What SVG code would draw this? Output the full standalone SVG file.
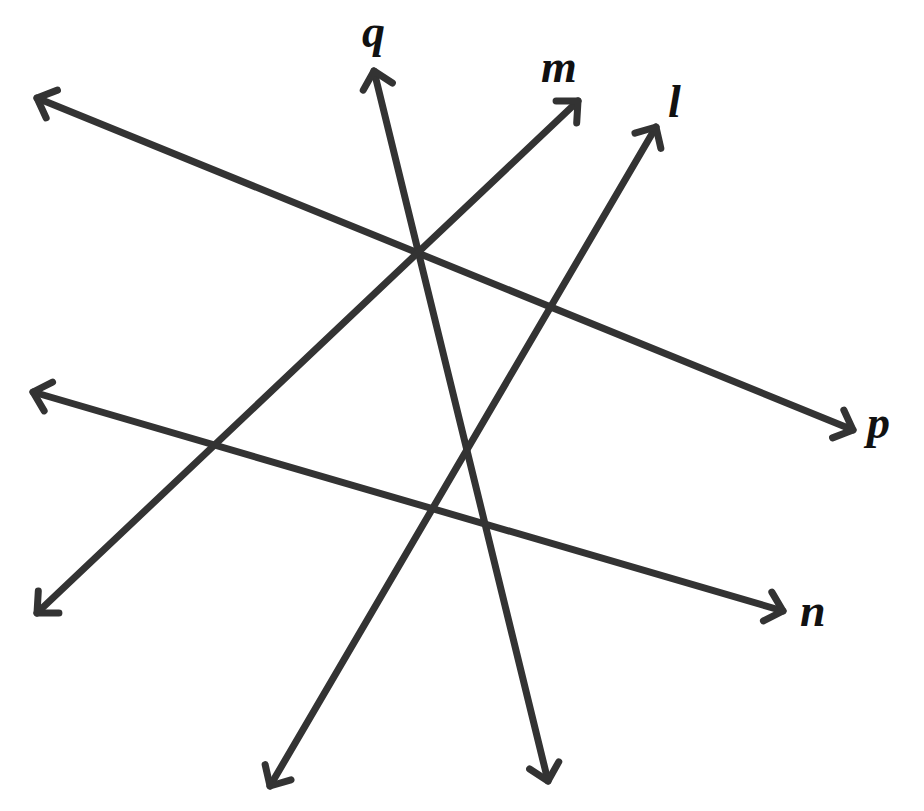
<svg xmlns="http://www.w3.org/2000/svg" width="924" height="811" viewBox="0 0 924 811">
<style>
.ln{stroke:#333;stroke-width:7;fill:none;stroke-linecap:round;marker-start:url(#a);marker-end:url(#a)}
.lb{font-family:"Liberation Serif",serif;font-style:italic;font-weight:bold;font-size:46px;fill:#111}
</style>
<defs>
<marker id="a" viewBox="-30 -30 40 60" markerWidth="40" markerHeight="60" refX="0" refY="0" orient="auto-start-reverse" markerUnits="userSpaceOnUse">
<path d="M-16,-15 L0,0 L-16,15" fill="none" stroke="#333" stroke-width="7" stroke-linecap="round" stroke-linejoin="round"/>
</marker>
</defs>
<rect width="924" height="811" fill="#fff"/>
<g id="connectors">
<line id="p" class="ln" x1="37" y1="98" x2="853" y2="430"/>
<line id="q" class="ln" x1="374" y1="71" x2="548" y2="781"/>
<line id="m" class="ln" x1="578" y1="101" x2="37" y2="613"/>
<line id="l" class="ln" x1="656" y1="127" x2="270" y2="786"/>
<line id="n" class="ln" x1="33" y1="392" x2="783" y2="611"/>
</g>
<g id="labels">
<text class="lb" x="362" y="47">q</text>
<text class="lb" x="541" y="82">m</text>
<text class="lb" x="668" y="117">l</text>
<text class="lb" x="867" y="438">p</text>
<text class="lb" x="800" y="626">n</text>
</g>
</svg>
